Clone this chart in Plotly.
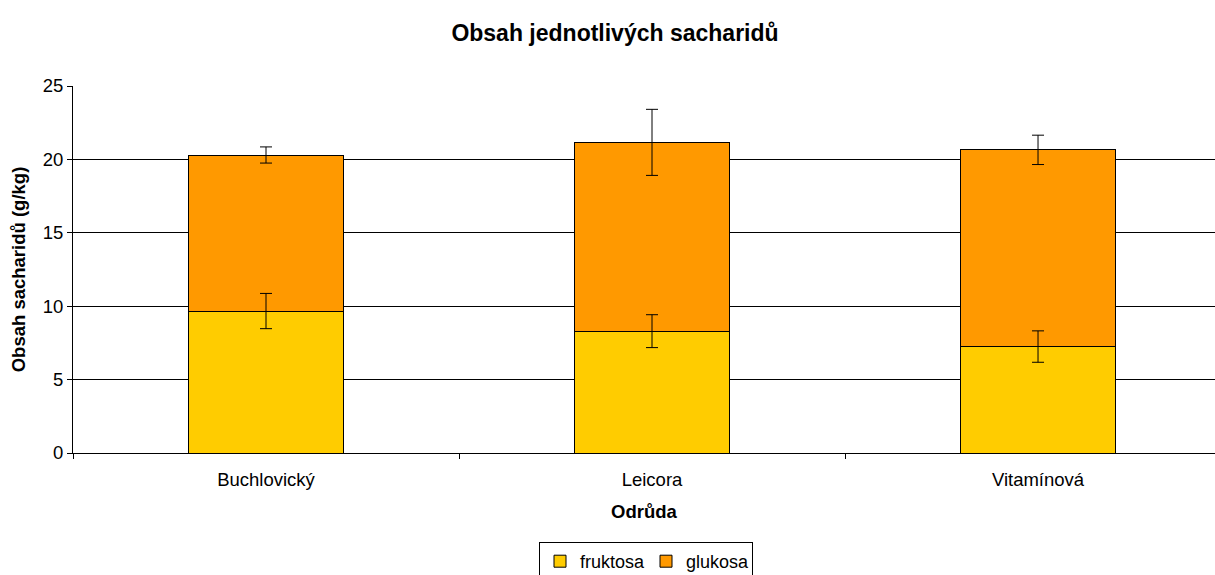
import plotly.graph_objects as go

categories = ["Buchlovický", "Leicora", "Vitamínová"]
fruktosa = [9.67, 8.3, 7.25]
fruktosa_err = [1.2, 1.12, 1.07]
glukosa = [10.63, 12.86, 13.4]
glukosa_err = [0.55, 2.25, 1.0]

totals = [f + g for f, g in zip(fruktosa, glukosa)]

fig = go.Figure()
fig.add_trace(go.Bar(
    name="fruktosa", x=categories, y=fruktosa,
    marker=dict(color="#FFCC00", line=dict(color="black", width=1)),
))
fig.add_trace(go.Bar(
    name="glukosa", x=categories, y=glukosa,
    marker=dict(color="#FF9900", line=dict(color="black", width=1)),
))
# error bars drawn on top of the stacked bars
fig.add_trace(go.Scatter(
    x=categories, y=fruktosa, mode="markers", marker=dict(size=1, opacity=0),
    error_y=dict(type="data", array=fruktosa_err, color="black", thickness=1, width=6),
    showlegend=False, hoverinfo="skip",
))
fig.add_trace(go.Scatter(
    x=categories, y=totals, mode="markers", marker=dict(size=1, opacity=0),
    error_y=dict(type="data", array=glukosa_err, color="black", thickness=1, width=6),
    showlegend=False, hoverinfo="skip",
))

fig.update_layout(
    barmode="stack",
    bargap=0.6,
    width=1215, height=575,
    margin=dict(l=73, r=0, t=86, b=122),
    paper_bgcolor="white", plot_bgcolor="white",
    font=dict(family="Liberation Sans, Arial, sans-serif", size=18.5, color="black"),
    title=dict(text="<b>Obsah jednotlivých sacharidů</b>", x=615/1215, xanchor="center",
               y=1 - 33/575, yanchor="middle", font=dict(size=23)),
    showlegend=True,
    legend=dict(orientation="h", x=646/1215, xref="container", xanchor="center",
                y=1 - 542/575, yref="container", yanchor="top",
                bgcolor="white", bordercolor="black", borderwidth=1,
                font=dict(size=18), traceorder="normal", itemwidth=30,
                entrywidth=61),
)
fig.update_xaxes(
    range=[-0.5, 2.4585], tickson="boundaries", ticks="outside", ticklen=5,
    tickcolor="black", showline=True, linecolor="black", linewidth=1,
    showgrid=False, tickfont=dict(size=18.5), ticklabelstandoff=10,
    title=dict(text="<b>Odrůda</b>", font=dict(size=18.5), standoff=15),
)
fig.update_yaxes(
    range=[0, 25], dtick=5, ticks="outside", ticklen=5, tickcolor="black",
    showline=True, linecolor="black", linewidth=1,
    showgrid=True, gridcolor="black", gridwidth=1, zeroline=False,
    tickfont=dict(size=18.5),
    title=dict(text="<b>Obsah sacharidů (g/kg)</b>", font=dict(size=18.5), standoff=12),
)

fig.write_html("out.html", config={"displayModeBar": False},
               post_script="document.body.style.margin='0';")
